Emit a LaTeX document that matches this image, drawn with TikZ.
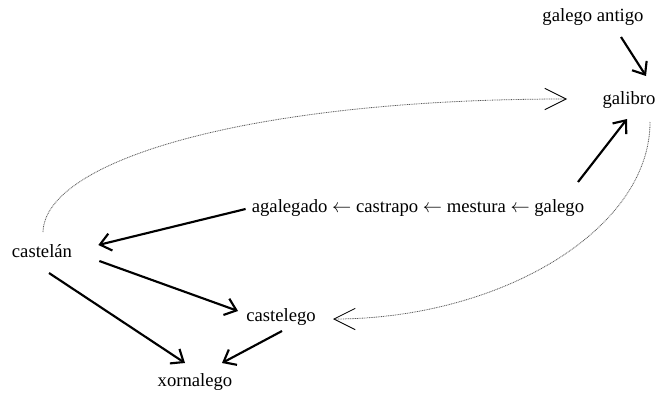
\documentclass[tikz,border=0pt]{standalone}
\usepackage{fontspec}
\setmainfont{Liberation Serif}
\usetikzlibrary{arrows.meta}

\begin{document}
\begin{tikzpicture}[x=0.75pt,y=-0.75pt,
    word/.style={inner sep=0pt,font=\fontsize{14}{16}\selectfont},
    thick arrow/.style={line width=1.6pt,-{Straight Barb[length=8pt,width=13pt]}},
    faint arrow/.style={line width=0.6pt,black!65,dash pattern=on 0.7pt off 0.6pt,
      -{Straight Barb[length=16pt,width=16pt,line width=0.6pt,color=black]}}]

  \useasboundingbox (0,0) rectangle (659,393);

  \node (antigo) at (593,17) [word]{galego antigo};
  \node (galibro) at (629,100) [word]{galibro};
  \node (chain) at (418,208) [word]{agalegado $\leftarrow$ castrapo $\leftarrow$ mestura $\leftarrow$ galego};
  \node (castelan) at (42,251) [word]{castelán};
  \node (castelego) at (281,317) [word]{castelego};
  \node (xornalego) at (195,382) [word]{xornalego};

  \draw[thick arrow] ([shift={(28,20)}]antigo.center) -- ([shift={(17,-24)}]galibro.center);
  \draw[thick arrow] ([shift={(160,-26)}]chain.center) -- ([shift={(-2,19)}]galibro.center);
  \draw[thick arrow] ([shift={(-6,1)}]chain.west) -- ([shift={(26,-6)}]castelan.east);
  \draw[thick arrow] ([shift={(27,10)}]castelan.east) -- ([shift={(-8,-6)}]castelego.west);
  \draw[thick arrow] ([shift={(7,22)}]castelan.center) -- ([shift={(-10,-19)}]xornalego.center);
  \draw[thick arrow] ([shift={(1,14)}]castelego.center) -- ([shift={(27,-19)}]xornalego.center);

  % dotted loop
  \draw[faint arrow] ([shift={(1,-19)}]castelan.center)
     .. controls (45,160) and (250,99) .. ([shift={(-62,-1)}]galibro.center);
  \draw[faint arrow] ([shift={(21,22)}]galibro.center)
     .. controls (650,230) and (500,319) .. ([shift={(52,2)}]castelego.center);

\end{tikzpicture}
\end{document}
